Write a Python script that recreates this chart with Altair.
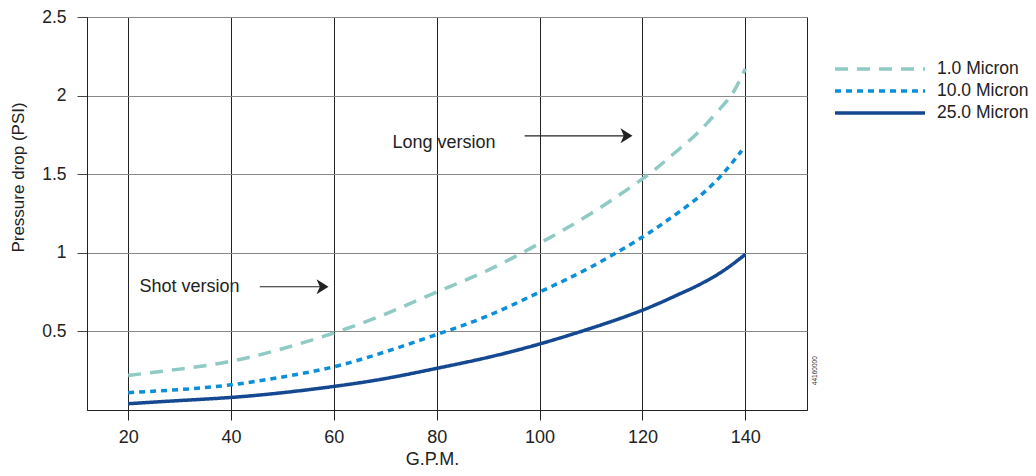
import altair as alt
import pandas as pd

series_names = ["1.0 Micron", "10.0 Micron", "25.0 Micron"]
series_colors = ["#8fcac4", "#0b8fd8", "#144890"]
series_dash = [[13, 9], [6, 5], [1, 0]]

gpm_1 = [20, 30, 40, 50, 60, 70, 80, 90, 100, 110, 120, 125, 130, 133, 136, 138, 140]
psi_1 = [0.22, 0.26, 0.31, 0.39, 0.49, 0.61, 0.75, 0.89, 1.06, 1.25, 1.47, 1.60, 1.74, 1.84, 1.95, 2.04, 2.17]

gpm_10 = [20, 30, 40, 50, 60, 70, 80, 90, 100, 110, 120, 125, 130, 135, 139.3]
psi_10 = [0.11, 0.13, 0.16, 0.21, 0.275, 0.37, 0.48, 0.60, 0.75, 0.91, 1.10, 1.21, 1.33, 1.48, 1.65]

gpm_25 = [20, 30, 40, 50, 60, 70, 80, 90, 100, 110, 120, 127, 130, 135, 140]
psi_25 = [0.04, 0.06, 0.08, 0.11, 0.15, 0.20, 0.265, 0.335, 0.42, 0.52, 0.635, 0.735, 0.78, 0.87, 0.99]

x_ticks = [20, 40, 60, 80, 100, 120, 140]
y_ticks = [0.5, 1, 1.5, 2, 2.5]

ann_labels = ["Long version", "Shot version"]
ann_x = [71.4, 22.2]
ann_y = [1.70, 0.78]
arrow_start = [97.1, 45.6]
arrow_end = [117.6, 58.4]
arrow_y = [1.744, 0.784]
arrow_head_x = [116.9, 57.8]

code_label = ["44160000"]
code_x = [153.6]
code_y = [0.25]

rows = []
for name, xs, ys in [(series_names[0], gpm_1, psi_1),
                     (series_names[1], gpm_10, psi_10),
                     (series_names[2], gpm_25, psi_25)]:
    for i, (a, b) in enumerate(zip(xs, ys)):
        rows.append({"series": name, "gpm": a, "psi": b, "order": i})
df = pd.DataFrame(rows)

ann_df = pd.DataFrame({"label": ann_labels, "x": ann_x, "y": ann_y})
arrow_df = pd.DataFrame({"x": arrow_start, "x2": arrow_end, "y": arrow_y, "hx": arrow_head_x})
code_df = pd.DataFrame({"label": code_label, "x": code_x, "y": code_y})

FONT = "Liberation Sans"
FS = 18
xscale = alt.Scale(domain=[12, 152], nice=False, zero=False)
yscale = alt.Scale(domain=[0, 2.5], nice=False)

legend = alt.Legend(orient="none", legendX=780, legendY=39, title=None,
                    symbolType="M-4,0H4", symbolSize=506, rowPadding=0,
                    symbolStrokeWidth=3.5, labelFontSize=17.5,
                    labelFont=FONT, labelColor="#222", labelOffset=44, labelLimit=200)

lines = alt.Chart(df).mark_line(strokeWidth=3.5, interpolate="natural").encode(
    x=alt.X("gpm:Q", scale=xscale,
            axis=alt.Axis(values=x_ticks, title="G.P.M.", grid=True, gridColor="#222",
                          gridOpacity=1, tickColor="#222", domainColor="#222", tickSize=10,
                          labelFontSize=FS, labelColor="#222", labelPadding=8,
                          titleFontSize=FS, titleFontWeight="normal", titleColor="#222",
                          titleX=345, titleY=54, titleBaseline="alphabetic")),
    y=alt.Y("psi:Q", scale=yscale,
            axis=alt.Axis(values=y_ticks, format="~g", title="Pressure drop (PSI)", grid=True,
                          gridColor="#888", gridOpacity=1, tickColor="#444", domainColor="#222",
                          tickSize=10, labelFontSize=17.5, labelColor="#222", labelPadding=11,
                          titleFontSize=17, titleFontWeight="normal", titleColor="#222",
                          titleX=-64, titleY=160, titleBaseline="alphabetic")),
    color=alt.Color("series:N", scale=alt.Scale(domain=series_names, range=series_colors),
                    legend=legend),
    strokeDash=alt.StrokeDash("series:N", scale=alt.Scale(domain=series_names, range=series_dash),
                              legend=legend),
    order="order:Q",
)

ann_text = alt.Chart(ann_df).mark_text(align="left", baseline="middle", fontSize=FS,
                                       font=FONT, color="#222").encode(
    x=alt.X("x:Q", scale=xscale), y=alt.Y("y:Q", scale=yscale), text="label:N")

arrow_lines = alt.Chart(arrow_df).mark_rule(color="#222", strokeWidth=1.2).encode(
    x=alt.X("x:Q", scale=xscale), x2="x2:Q", y=alt.Y("y:Q", scale=yscale))

arrow_heads = alt.Chart(arrow_df).mark_point(shape="M1,0L-1,-1.25L-0.45,0L-1,1.25Z",
                                             filled=True, size=144, color="#222",
                                             opacity=1, strokeWidth=0).encode(
    x=alt.X("hx:Q", scale=xscale), y=alt.Y("y:Q", scale=yscale))

code_text = alt.Chart(code_df).mark_text(angle=270, fontSize=6.5, font=FONT, color="#333",
                                         baseline="middle", align="center").encode(
    x=alt.X("x:Q", scale=xscale), y=alt.Y("y:Q", scale=yscale), text="label:N")

chart = alt.layer(lines, ann_text, arrow_lines, arrow_heads, code_text).properties(
    width=720, height=393,
    autosize=alt.AutoSizeParams(type="none"),
    padding={"left": 79, "top": 9, "right": 221, "bottom": 58},
    background="white",
).configure(font=FONT).configure_view(stroke="#222", strokeWidth=1)

chart.save("out.html", embed_options={"renderer": "svg", "actions": False})
